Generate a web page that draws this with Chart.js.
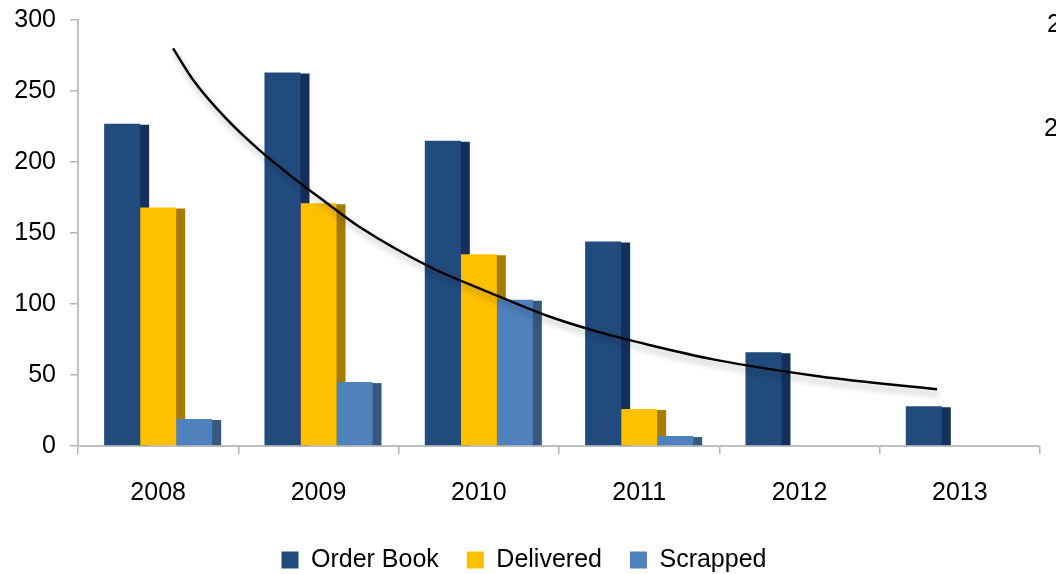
<!DOCTYPE html>
<html><head><meta charset="utf-8">
<script src="https://cdn.jsdelivr.net/npm/chart.js@4.4.1/dist/chart.umd.min.js"></script>
<style>
html,body{margin:0;padding:0;background:#fff;}
#wrap{position:relative;width:1056px;height:574px;}
#wrap canvas{position:absolute;left:0;top:0;display:block;}
</style>
</head><body>
<div id="wrap">
<canvas id="c" width="1056" height="574" style="width:1056px;height:574px"></canvas>
<canvas id="t" width="1056" height="574" style="width:1056px;height:574px"></canvas>
</div>
<script>
const categories = ['2008', '2009', '2010', '2011', '2012', '2013'];
const seriesNames = ['Order Book', 'Delivered', 'Scrapped'];
const orderBook = [227, 263, 215, 144, 66, 28];
const delivered = [168, 171, 135, 26, 0, 0];
const scrapped = [19, 45, 103, 7, 0, 0];
const trendX = [0.593, 0.717, 0.929, 1.135, 1.341, 1.553, 1.759, 2.214, 2.526, 2.944, 3.256, 3.568, 3.961, 4.628, 5.358];
const trendY = [280, 258, 230, 208, 189, 171, 154, 125, 110, 91, 80, 71, 61, 49, 40];
const yTicks = [0, 50, 100, 150, 200, 250, 300];
const edgeLabels = ['2', '2'];

const FONT = '"Liberation Sans", Arial, sans-serif';
const frontColors = ['#214A7D', '#FFC000', '#4F81BD'];
const sideColors = ['#15305A', '#A67C00', '#35597F'];

// plot area shared by both layers: left 78, right 1040, top 20, bottom 446
const PAD = { left: 8, right: 16, top: 20, bottom: -8.5 };

const bar3d = {
  id: 'bar3d',
  beforeDatasetsDraw(chart) {
    const ctx = chart.ctx;
    chart.data.datasets.forEach((ds, i) => {
      const meta = chart.getDatasetMeta(i);
      meta.data.forEach(el => {
        const p = el.getProps(['x', 'y', 'base', 'width'], true);
        if (Math.abs(p.base - p.y) < 0.5) return;
        const right = p.x + p.width / 2;
        ctx.save();
        ctx.fillStyle = ds.sideColor;
        ctx.beginPath();
        ctx.moveTo(right - 1, p.y + 1);
        ctx.lineTo(right + 9, p.y + 1);
        ctx.lineTo(right + 9, p.base);
        ctx.lineTo(right - 1, p.base);
        ctx.closePath();
        ctx.fill();
        ctx.restore();
      });
    });
  }
};

const edgeText = {
  id: 'edgeText',
  afterDraw(chart) {
    const ctx = chart.ctx;
    ctx.save();
    ctx.fillStyle = '#000';
    ctx.font = '25px ' + FONT;
    ctx.textBaseline = 'middle';
    ctx.textAlign = 'left';
    ctx.fillText(edgeLabels[0], 1047, 25);
    ctx.fillText(edgeLabels[1], 1044, 129);
    ctx.restore();
  }
};

const trendShadow = {
  id: 'trendShadow',
  beforeDatasetDraw(chart) {
    const ctx = chart.ctx;
    ctx.save();
    ctx.shadowColor = 'rgba(0,0,0,0.3)';
    ctx.shadowBlur = 6;
    ctx.shadowOffsetX = 2;
    ctx.shadowOffsetY = 5;
  },
  afterDatasetDraw(chart) {
    chart.ctx.restore();
  }
};

const barSets = [orderBook, delivered, scrapped].map((d, i) => ({
  label: seriesNames[i],
  data: d,
  backgroundColor: frontColors[i],
  sideColor: sideColors[i],
  borderWidth: 0,
  categoryPercentage: 0.674,
  barPercentage: 1
}));

new Chart(document.getElementById('c'), {
  type: 'bar',
  data: { labels: categories, datasets: barSets },
  plugins: [bar3d, edgeText],
  options: {
    responsive: false,
    animation: false,
    layout: { padding: PAD },
    plugins: {
      tooltip: { enabled: false },
      legend: {
        position: 'bottom',
        labels: {
          color: '#000',
          font: { family: FONT, size: 25 },
          boxWidth: 17,
          boxHeight: 17,
          padding: 28
        }
      }
    },
    scales: {
      x: {
        grid: { drawOnChartArea: false, drawTicks: true, tickLength: 8, color: '#b5b5b5', lineWidth: 1.5 },
        border: { color: '#c0c0c0', width: 2 },
        ticks: { color: '#000', font: { family: FONT, size: 25 }, padding: 24, maxRotation: 0 },
        afterFit: s => { s.height = 73.5; }
      },
      y: {
        min: 0, max: 300,
        afterBuildTicks: s => { s.ticks = yTicks.map(v => ({ value: v })); },
        grid: { drawOnChartArea: false, drawTicks: true, tickLength: 8, color: '#b5b5b5', lineWidth: 1.5 },
        border: { color: '#c0c0c0', width: 2 },
        ticks: { color: '#000', font: { family: FONT, size: 25 }, padding: 14 },
        afterFit: s => { s.width = 70; s.paddingTop = 0; s.paddingBottom = 0; }
      }
    }
  }
});

// trend curve layer, same plot area (0..6 category units across, 0..300 up)
new Chart(document.getElementById('t'), {
  type: 'line',
  data: {
    datasets: [{
      label: 'trend',
      data: trendX.map((x, i) => ({ x: x, y: trendY[i] })),
      borderColor: '#000',
      borderWidth: 2.5,
      pointRadius: 0,
      cubicInterpolationMode: 'monotone',
      fill: false
    }]
  },
  plugins: [trendShadow],
  options: {
    responsive: false,
    animation: false,
    layout: { padding: { left: 78, right: 16, top: 20, bottom: 128 } },
    plugins: { legend: { display: false }, tooltip: { enabled: false } },
    scales: {
      x: { type: 'linear', min: 0, max: 6, display: false },
      y: { type: 'linear', min: 0, max: 300, display: false }
    }
  }
});
</script>
</body></html>
